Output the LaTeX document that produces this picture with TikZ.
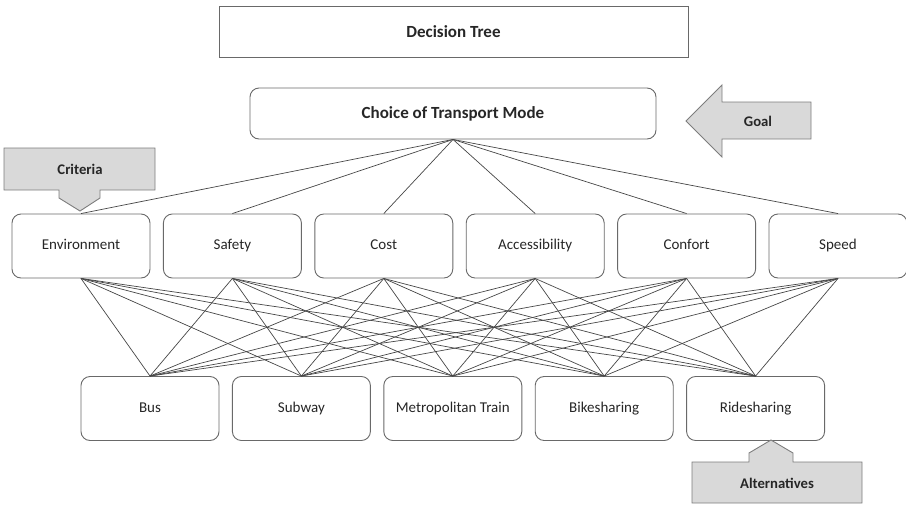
\documentclass[tikz,border=0pt]{standalone}
\usepackage{fontspec}
\setmainfont{Carlito}
\usetikzlibrary{positioning}
\definecolor{boxline}{RGB}{105,105,105}
\definecolor{edgeline}{RGB}{70,70,70}
\definecolor{calloutfill}{RGB}{217,217,217}
\definecolor{calloutline}{RGB}{125,125,125}
\definecolor{txt}{RGB}{38,38,38}

\begin{document}
\begin{tikzpicture}[x=1pt, y=-1pt, node distance=12.5pt,
  box/.style={draw=boxline, line width=0.9pt, rounded corners=9pt,
    minimum width=138pt, minimum height=64pt, text=txt,
    text height=10.5pt, text depth=3pt,
    font=\fontsize{15}{18}\selectfont},
  headbox/.style={draw=boxline, line width=0.9pt, minimum height=51pt,
    text=txt, font=\fontsize{17}{20}\selectfont\bfseries},
  callout/.style={draw=calloutline, fill=calloutfill, line width=0.9pt},
  calltext/.style={text=txt, font=\fontsize{14.7}{17}\selectfont\bfseries},
  edge/.style={draw=edgeline, line width=0.7pt}]
  \useasboundingbox (0,0) rectangle (906,504);

  % Nodes
  \node[headbox, minimum width=469pt] (title) at (453.5,31.5) {Decision Tree};
  \node[headbox, minimum width=406pt, rounded corners=9pt] (choice) at (453,113.5) {Choice of Transport Mode};

  \node[box] (env) at (81,246) {Environment};
  \node[box, right=of env] (safety) {Safety};
  \node[box, right=of safety] (cost) {Cost};
  \node[box, right=of cost] (access) {Accessibility};
  \node[box, right=of access] (confort) {Confort};
  \node[box, right=of confort] (speed) {Speed};

  \node[box] (bus) at (150,408.5) {Bus};
  \node[box, right=of bus] (subway) {Subway};
  \node[box, right=of subway] (train) {Metropolitan Train};
  \node[box, right=of train] (bike) {Bikesharing};
  \node[box, right=of bike] (ride) {Ridesharing};

  % Callouts
  \draw[callout] (686,121) -- (722,85) -- (722,102) -- (811,102) -- (811,139)
    -- (722,139) -- (722,157) -- cycle;
  \node[calltext] (goal) at (758,121) {Goal};

  \draw[callout] (4,148) -- (155,148) -- (155,190) -- (100,190) -- (100,198)
    -- (80,211) -- (59,198) -- (59,190) -- (4,190) -- cycle;
  \node[calltext] (criteria) at (80,169) {Criteria};

  \draw[callout] (692,503) -- (692,462) -- (749,462) -- (749,453) -- (771,440)
    -- (793,453) -- (793,462) -- (862,462) -- (862,503) -- cycle;
  \node[calltext] (alternatives) at (777,483) {Alternatives};

  % Edges
  \foreach \c in {env,safety,cost,access,confort,speed}
    \draw[edge] (choice.south) -- (\c.north);
  \foreach \c in {env,safety,cost,access,confort,speed}
    \foreach \a in {bus,subway,train,bike,ride}
      \draw[edge] (\c.south) -- (\a.north);
\end{tikzpicture}
\end{document}
